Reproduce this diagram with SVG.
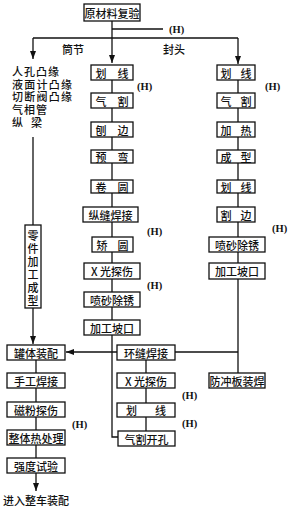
<svg xmlns="http://www.w3.org/2000/svg" width="300" height="512" viewBox="0 0 300 512">
<defs>
<style>
.b{fill:#fff;stroke:#111;stroke-width:1.3}
.t{font-family:"Noto Sans CJK SC","Noto Sans",sans-serif;font-size:11px;font-weight:500;fill:#111;text-anchor:middle;dominant-baseline:central}
.v{font-family:"Liberation Sans","Noto Sans CJK SC",sans-serif;font-size:11px;font-weight:500;fill:#111;text-anchor:middle;dominant-baseline:central}
.l{font-family:"Liberation Sans","Noto Sans CJK SC",sans-serif;font-size:11px;font-weight:500;fill:#111;dominant-baseline:central}
.h{font-family:"Liberation Serif",serif;font-size:10.5px;font-weight:bold;fill:#111;dominant-baseline:central}
.c{fill:none;stroke:#111;stroke-width:1.3}
</style>
<marker id="a" viewBox="0 0 8 6" refX="8" refY="3" markerWidth="8" markerHeight="6" markerUnits="userSpaceOnUse" orient="auto">
<path d="M0,0 L8,3 L0,6 Z" fill="#111"/>
</marker>
</defs>
<rect width="300" height="512" fill="#fff"/>

<g id="connectors">
<path class="c" d="M112,21 V63" marker-end="url(#a)"/>
<path class="c" d="M112,29 H163"/>
<path class="c" d="M33,38 H238"/>
<path class="c" d="M33,38 V59" marker-end="url(#a)"/>
<path class="c" d="M238,38 V64" marker-end="url(#a)"/>
<path class="c" d="M112,80 V93 M112,108 V122 M112,137 V150 M112,163 V180 M112,193 V207 M112,222 V237 M112,252 V263 M112,279 V292 M112,307 V320"/>
<path class="c" d="M112,335 V437 H118"/>
<path class="c" d="M238,80 V93 M238,108 V122 M238,137 V150 M238,163 V180 M238,193 V207 M238,222 V237 M238,252 V263 M238,279 V373"/>
<path class="c" d="M175,352 H238"/>
<path class="c" d="M117,352 H66" marker-end="url(#a)"/>
<path class="c" d="M146,360 V373 M146,388 V403 M146,417 V431"/>
<path class="c" d="M33,137 V225"/>
<path class="c" d="M33,308 V344" marker-end="url(#a)"/>
<path class="c" d="M36,360 V373 M36,388 V402 M36,417 V430 M36,445 V458"/>
<path class="c" d="M36,473 V491" marker-end="url(#a)"/>
</g>

<g id="top"><rect class="b" x="84" y="4" width="56" height="17"/><text class="t" x="112" y="12.5">原材料复验</text></g>
<text class="h" x="169" y="29">(H)</text>
<text class="l" x="62" y="50">筒节</text>
<text class="l" x="163" y="50">封头</text>

<g id="list">
<text class="l" x="12" y="72" textLength="47" lengthAdjust="spacing">人孔凸缘</text>
<text class="l" x="12" y="84.7" textLength="60" lengthAdjust="spacing">液面计凸缘</text>
<text class="l" x="12" y="97.4" textLength="60" lengthAdjust="spacing">切断阀凸缘</text>
<text class="l" x="12" y="110.1" textLength="35" lengthAdjust="spacing">气相管</text>
<text class="l" x="12" y="122.8" textLength="30" lengthAdjust="spacing">纵 梁</text>
</g>

<g id="m1"><rect class="b" x="91" y="65" width="42" height="15"/><text class="t" x="112" y="72.5" textLength="33" lengthAdjust="spacing">划 线</text></g>
<g id="m2"><rect class="b" x="91" y="93" width="42" height="15"/><text class="t" x="112" y="100.5" textLength="33" lengthAdjust="spacing">气 割</text></g>
<g id="m3"><rect class="b" x="91" y="122" width="42" height="15"/><text class="t" x="112" y="129.5" textLength="33" lengthAdjust="spacing">刨 边</text></g>
<g id="m4"><rect class="b" x="91" y="150" width="42" height="13"/><text class="t" x="112" y="156.5" textLength="33" lengthAdjust="spacing">预 弯</text></g>
<g id="m5"><rect class="b" x="91" y="180" width="42" height="13"/><text class="t" x="112" y="186.5" textLength="33" lengthAdjust="spacing">卷 圆</text></g>
<g id="m6"><rect class="b" x="83" y="207" width="55" height="15"/><text class="t" x="110.5" y="214.5">纵缝焊接</text></g>
<g id="m7"><rect class="b" x="92" y="237" width="41" height="15"/><text class="t" x="112.5" y="244.5" textLength="32" lengthAdjust="spacing">矫 圆</text></g>
<g id="m8"><rect class="b" x="84" y="263" width="56" height="16"/><text class="t" x="112" y="271">X 光探伤</text></g>
<g id="m9"><rect class="b" x="84" y="292" width="56" height="15"/><text class="t" x="112" y="299.5">喷砂除锈</text></g>
<g id="m10"><rect class="b" x="84" y="320" width="56" height="15"/><text class="t" x="112" y="327.5">加工坡口</text></g>
<text class="h" x="137" y="86">(H)</text>
<text class="h" x="147" y="231">(H)</text>
<text class="h" x="147" y="285">(H)</text>

<g id="r1"><rect class="b" x="217" y="65" width="38" height="15"/><text class="t" x="236" y="72.5" textLength="31" lengthAdjust="spacing">划 线</text></g>
<g id="r2"><rect class="b" x="217" y="93" width="38" height="15"/><text class="t" x="236" y="100.5" textLength="31" lengthAdjust="spacing">气 割</text></g>
<g id="r3"><rect class="b" x="217" y="122" width="38" height="15"/><text class="t" x="236" y="129.5" textLength="31" lengthAdjust="spacing">加 热</text></g>
<g id="r4"><rect class="b" x="217" y="150" width="38" height="13"/><text class="t" x="236" y="156.5" textLength="31" lengthAdjust="spacing">成 型</text></g>
<g id="r5"><rect class="b" x="217" y="180" width="38" height="13"/><text class="t" x="236" y="186.5" textLength="31" lengthAdjust="spacing">划 线</text></g>
<g id="r6"><rect class="b" x="217" y="207" width="38" height="15"/><text class="t" x="236" y="214.5" textLength="31" lengthAdjust="spacing">割 边</text></g>
<g id="r7"><rect class="b" x="209" y="237" width="56" height="15"/><text class="t" x="237" y="244.5">喷砂除锈</text></g>
<g id="r8"><rect class="b" x="209" y="263" width="56" height="16"/><text class="t" x="237" y="271">加工坡口</text></g>
<g id="r9"><rect class="b" x="209" y="373" width="56" height="15"/><text class="t" x="237" y="380.5">防冲板装焊</text></g>
<text class="h" x="265" y="86">(H)</text>
<text class="h" x="272" y="228">(H)</text>

<g id="s1"><rect class="b" x="117" y="345" width="58" height="15"/><text class="t" x="146" y="352.5">环缝焊接</text></g>
<g id="s2"><rect class="b" x="117" y="373" width="58" height="15"/><text class="t" x="146" y="380.5">X 光探伤</text></g>
<g id="s3"><rect class="b" x="117" y="403" width="58" height="14"/><text class="t" x="146" y="410" textLength="40" lengthAdjust="spacing">划 线</text></g>
<g id="s4"><rect class="b" x="118" y="431" width="57" height="15"/><text class="t" x="146.5" y="438.5">气割开孔</text></g>
<text class="h" x="182" y="395">(H)</text>
<text class="h" x="182" y="423">(H)</text>

<g id="part"><rect class="b" x="25" y="225" width="16" height="83"/>
<text class="v" x="33" y="236">零</text><text class="v" x="33" y="249">件</text><text class="v" x="33" y="262">加</text><text class="v" x="33" y="275">工</text><text class="v" x="33" y="288">成</text><text class="v" x="33" y="301">型</text></g>

<g id="l1"><rect class="b" x="7" y="345" width="58" height="15"/><text class="t" x="36" y="352.5">罐体装配</text></g>
<g id="l2"><rect class="b" x="7" y="373" width="58" height="15"/><text class="t" x="36" y="380.5">手工焊接</text></g>
<g id="l3"><rect class="b" x="7" y="402" width="58" height="15"/><text class="t" x="36" y="409.5">磁粉探伤</text></g>
<g id="l4"><rect class="b" x="7" y="430" width="58" height="15"/><text class="t" x="36" y="437.5">整体热处理</text></g>
<g id="l5"><rect class="b" x="7" y="458" width="58" height="15"/><text class="t" x="36" y="465.5">强度试验</text></g>
<text class="h" x="72" y="424">(H)</text>
<text class="l" x="36" y="501" style="text-anchor:middle">进入整车装配</text>
</svg>
